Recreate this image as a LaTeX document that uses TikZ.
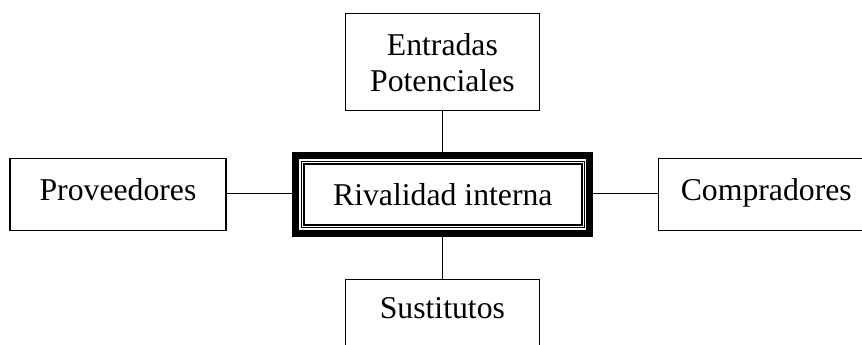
\documentclass[tikz,border=0pt]{standalone}
\usepackage{fontspec}
\setmainfont{Liberation Serif}
\tikzset{
  box/.style={draw, line width=0.8pt, rectangle, inner sep=0pt, outer sep=0pt,
    align=center, font=\fontsize{23.8}{27.5}\selectfont},
  sidebox/.style={box, minimum width=162pt, minimum height=54.3pt,
    text height=16.5pt, text depth=8.25pt},
  tallbox/.style={box, minimum width=145pt, minimum height=72.6pt},
  corebox/.style={draw, line width=5.25pt, rectangle, inner sep=0pt, outer sep=0pt,
    minimum width=220.5pt, minimum height=57.75pt,
    text height=20pt, text depth=4.25pt,
    font=\fontsize{23.8}{27.5}\selectfont},
  link/.style={line width=0.8pt}
}
\begin{document}
\begin{tikzpicture}[x=0.75pt, y=-0.75pt]
\clip (0,0) rectangle (862,345);
\fill[white] (0,0) rectangle (862,345);
\node[corebox] (c) at (442.8,194.5) {Rivalidad interna};
\draw[line width=0.55pt] ([shift={(5.3,5.3)}]c.north west) rectangle ([shift={(-5.3,-5.3)}]c.south east);
\draw[line width=1.3pt] ([shift={(8.1,8.1)}]c.north west) rectangle ([shift={(-8.1,-8.1)}]c.south east);
\node[tallbox, text height=50.1pt, text depth=6pt] (top) at (442.4,62.3) {Entradas\\Potenciales};
\node[tallbox, text height=16.5pt, text depth=30.3pt] (bot) at (442.4,327.5) {Sustitutos};
\node[sidebox] (lft) at (118,194.5) {Proveedores};
\node[sidebox] (rgt) at (766.3,194.5) {Compradores};
\draw[link] (top.south) -- (top.south |- c.north);
\draw[link] (bot.north) -- (bot.north |- c.south);
\draw[link] ([yshift=0.9pt]lft.east) -- ([yshift=0.9pt]lft.east -| c.west);
\draw[link] ([yshift=0.9pt]rgt.west) -- ([yshift=0.9pt]rgt.west -| c.east);
\end{tikzpicture}
\end{document}
